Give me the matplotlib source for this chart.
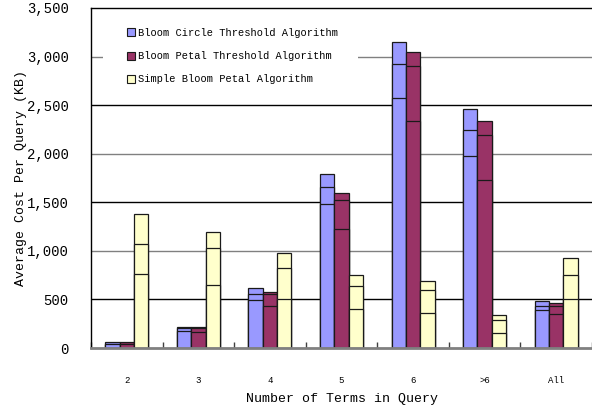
import matplotlib
matplotlib.use("Agg")
import matplotlib.pyplot as plt
from matplotlib.patches import Patch, Rectangle
import numpy as np

categories = ["2", "3", "4", "5", "6", ">6", "All"]
series_names = ["Bloom Circle Threshold Algorithm",
                "Bloom Petal Threshold Algorithm",
                "Simple Bloom Petal Algorithm"]
colors = ["#9999FF", "#993366", "#FFFFCC"]

# three cumulative levels per bar: low, mid, top
circle_low = [40, 178, 494, 1478, 2569, 1972, 391]
circle_mid = [42, 206, 552, 1653, 2926, 2240, 435]
circle_top = [62, 219, 614, 1790, 3149, 2456, 487]

petal_low = [40, 168, 435, 1221, 2336, 1732, 347]
petal_mid = [42, 202, 555, 1520, 2905, 2188, 432]
petal_top = [60, 216, 575, 1592, 3042, 2336, 460]

simple_low = [758, 645, 500, 398, 357, 154, 500]
simple_mid = [1067, 1032, 826, 638, 593, 285, 751]
simple_top = [1379, 1197, 974, 748, 686, 336, 923]

yticks = [0, 500, 1000, 1500, 2000, 2500, 3000, 3500]
ytick_labels = ["0", "500", "1,000", "1,500", "2,000", "2,500", "3,000", "3,500"]

mono = "Liberation Mono"

fig = plt.figure(figsize=(5.92, 4.08), dpi=100)
ax = fig.add_axes([91/592, 1 - 348/408, 501/592, 340/408])

x = np.arange(len(categories))
w = 0.2
levels = [(circle_low, circle_mid, circle_top),
          (petal_low, petal_mid, petal_top),
          (simple_low, simple_mid, simple_top)]
for k, (lo, mi, tp) in enumerate(levels):
    pos = x + (k - 1) * w
    for vals in (tp, mi, lo):
        ax.bar(pos, vals, width=w, color=colors[k], edgecolor="#1a1a1a",
               linewidth=0.9, zorder=2)

# gridlines alternating black/gray
for i, yv in enumerate(yticks[1:-1]):
    c = "black" if i % 2 == 0 else "#808080"
    ax.axhline(yv, color=c, linewidth=1.0, zorder=0.5)

ax.set_xlim(-0.5, len(categories) - 0.5)
ax.set_ylim(0, 3500)
ax.set_yticks(yticks)
ax.set_yticklabels(ytick_labels, fontfamily=mono, fontsize=10)
ax.tick_params(axis="y", length=0, pad=16)

ax.set_xticks(x)
ax.set_xticklabels(categories, fontfamily=mono, fontsize=6.5)
ax.set_xticks(np.arange(len(categories) + 1) - 0.5, minor=True)
ax.tick_params(axis="x", which="major", length=0, pad=20)
ax.tick_params(axis="x", which="minor", direction="in", length=4,
               width=1, color="#404040")

ax.spines["right"].set_visible(False)
ax.spines["left"].set_color("black")
ax.spines["left"].set_linewidth(1.0)
ax.spines["top"].set_color("black")
ax.spines["top"].set_linewidth(1.0)
ax.spines["bottom"].set_color("#808080")
ax.spines["bottom"].set_linewidth(2.0)

ax.set_xlabel("Number of Terms in Query", fontfamily=mono, fontsize=9.5,
              labelpad=6)
ax.set_ylabel("Average Cost Per Query (KB)", fontfamily=mono, fontsize=9.5,
              labelpad=0)

# white background behind legend
ax.add_patch(Rectangle((0.024, 0.744), 0.509, 0.235, transform=ax.transAxes,
                       facecolor="white", edgecolor="none", zorder=1))

handles = [Patch(facecolor=colors[k], edgecolor="#1a1a1a", linewidth=0.8)
           for k in range(3)]
leg = ax.legend(handles, series_names, loc="upper left",
                bbox_to_anchor=(0.0719, 0.941), borderaxespad=0, borderpad=0,
                frameon=False, prop={"family": mono, "size": 7.5},
                handlelength=0.8, handleheight=0.8, handletextpad=0.3,
                labelspacing=1.26)
leg.set_zorder(5)

fig.savefig("out.png", dpi=100)
